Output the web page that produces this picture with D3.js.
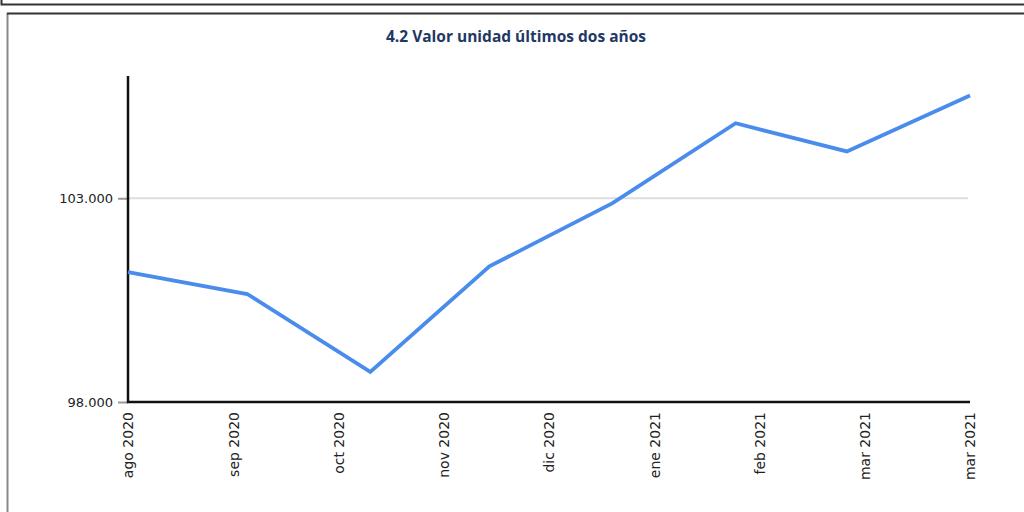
<!DOCTYPE html>
<meta charset="utf-8">
<style>
 body { margin: 0; background: #fff; }
 svg { display: block; }
 .title { font-family: "Open Sans", sans-serif; font-weight: 700; font-size: 15.5px; fill: #1f3864; }
 .axis text { font-family: "DejaVu Sans", sans-serif; font-size: 13px; fill: #222; }
 .x.axis text { font-size: 14px; }
</style>
<body>
<div id="chart"></div>
<script src="https://cdn.jsdelivr.net/npm/d3@7"></script>
<script>
(function(){

  var width = 1024, height = 512;
  var margin = {top: 76, right: 54, bottom: 110, left: 128};

  // data: month-end values
  var dates = ["2020-08-31", "2020-09-30", "2020-10-31", "2020-11-30",
               "2020-12-31", "2021-01-31", "2021-02-28", "2021-03-31"];
  var values = [101190, 100650, 98740, 101330, 102880, 104840, 104150, 105520];
  var yTicks = [98000, 103000];
  var yDomain = [98000, 106000];
  var monthsEs = ["ene", "feb", "mar", "abr", "may", "jun", "jul", "ago", "sep", "oct", "nov", "dic"];

  var parse = d3.utcParse("%Y-%m-%d");
  var data = dates.map(function(d, i) { return {date: parse(d), value: values[i]}; });

  var locale = d3.formatLocale({decimal: ",", thousands: ".", grouping: [3], currency: ["$", ""]});
  var fmt = locale.format(",d");

  var svg = d3.select("#chart").append("svg")
      .attr("width", width)
      .attr("height", height);

  // panel frames
  svg.append("path").attr("d", "M1.5,-2V4.5H1030").attr("fill", "none").attr("stroke", "#333").attr("stroke-width", 2);
  svg.append("line").attr("x1", 7.5).attr("x2", 7.5).attr("y1", 13).attr("y2", 520).attr("stroke", "#888").attr("stroke-width", 2);
  svg.append("line").attr("x1", 7).attr("x2", 1030).attr("y1", 13.5).attr("y2", 13.5).attr("stroke", "#333").attr("stroke-width", 2);

  svg.append("text").attr("class", "title")
      .attr("x", 516).attr("y", 42)
      .attr("text-anchor", "middle")
      .text("4.2 Valor unidad últimos dos años");

  var x = d3.scaleUtc()
      .domain(d3.extent(data, function(d) { return d.date; }))
      .range([margin.left, width - margin.right]);

  var y = d3.scaleLinear()
      .domain(yDomain)
      .range([height - margin.bottom, margin.top]);

  // gridlines
  svg.append("g").selectAll("line")
      .data(yTicks.filter(function(t) { return t !== yDomain[0]; }))
      .enter().append("line")
      .attr("x1", margin.left).attr("x2", width - margin.right - 2)
      .attr("y1", function(d) { return y(d); }).attr("y2", function(d) { return y(d); })
      .attr("stroke", "#ddd").attr("stroke-width", 2);

  // y axis
  var yAxis = svg.append("g").attr("class", "y axis")
      .attr("transform", "translate(" + margin.left + ",0)")
      .call(d3.axisLeft(y).tickValues(yTicks).tickFormat(fmt).tickSize(10).tickPadding(5));
  yAxis.select(".domain").remove();
  yAxis.selectAll(".tick line").attr("stroke", "#999").attr("stroke-width", 2);

  // x axis, 9 evenly spaced ticks
  var d0 = x.domain()[0].getTime(), d1 = x.domain()[1].getTime();
  var xTicks = d3.range(9).map(function(i) { return new Date(d0 + (d1 - d0) * i / 8); });
  var xAxis = svg.append("g").attr("class", "x axis")
      .attr("transform", "translate(0," + (height - margin.bottom) + ")")
      .call(d3.axisBottom(x).tickValues(xTicks).tickSize(0)
        .tickFormat(function(d) { return monthsEs[d.getUTCMonth()] + " " + d.getUTCFullYear(); }));
  xAxis.select(".domain").remove();
  xAxis.selectAll("text")
      .attr("transform", "rotate(-90)")
      .attr("text-anchor", "end")
      .attr("x", -10).attr("y", 0).attr("dy", "0.35em");

  // axis lines
  svg.append("path")
      .attr("d", "M" + margin.left + "," + margin.top + "V" + (height - margin.bottom) + "H" + (width - margin.right))
      .attr("fill", "none").attr("stroke", "#111").attr("stroke-width", 2.5);

  var line = d3.line()
      .x(function(d) { return x(d.date); })
      .y(function(d) { return y(d.value); });

  svg.append("path").datum(data)
      .attr("d", line)
      .attr("fill", "none")
      .attr("stroke", "#4a8cec")
      .attr("stroke-width", 3.8)
      .attr("stroke-linejoin", "miter");

})();
</script>
</body>
